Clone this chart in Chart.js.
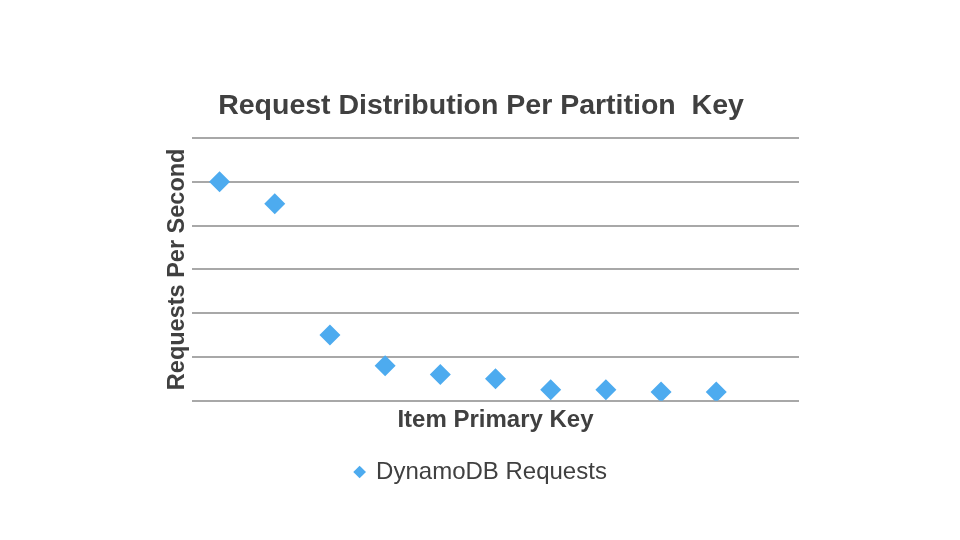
<!DOCTYPE html>
<html>
<head>
<meta charset="utf-8">
<script src="https://cdn.jsdelivr.net/npm/chart.js@4.4.0/dist/chart.umd.min.js"></script>
<style>
  html, body { margin: 0; padding: 0; background: #ffffff; }
  #wrap { width: 960px; height: 540px; }
</style>
</head>
<body>
<div id="wrap"><canvas id="c" width="960" height="540"></canvas></div>
<script>
const titleText = 'Request Distribution Per Partition  Key';
const xAxisTitle = 'Item Primary Key';
const yAxisTitle = 'Requests Per Second';
const seriesName = 'DynamoDB Requests';
const keys = ['k1', 'k2', 'k3', 'k4', 'k5', 'k6', 'k7', 'k8', 'k9', 'k10', 'k11'];
const requests = [5.0, 4.5, 1.5, 0.8, 0.6, 0.5, 0.25, 0.25, 0.2, 0.2];
const yMin = 0, yMax = 6, yStep = 1;

const FONT = '"Liberation Sans", Arial, Helvetica, sans-serif';
const TEXT = '#404040';
const GRID = '#a8a8a8';
const MARK = '#4dabef';

new Chart(document.getElementById('c'), {
  type: 'line',
  data: {
    labels: keys,
    datasets: [{
      label: seriesName,
      data: requests,
      showLine: false,
      pointStyle: 'rectRot',
      pointRadius: 10.5,
      pointHoverRadius: 10.5,
      pointBackgroundColor: MARK,
      pointBorderColor: MARK,
      pointBorderWidth: 0,
      backgroundColor: MARK,
      borderColor: MARK
    }]
  },
  options: {
    responsive: false,
    animation: false,
    layout: { padding: { top: 89.4, left: 163, right: 161, bottom: 46 } },
    plugins: {
      title: {
        display: true,
        text: titleText,
        color: TEXT,
        font: { family: FONT, size: 28.5, weight: 'bold' },
        padding: { top: 0, bottom: 14.4 }
      },
      legend: {
        display: true,
        position: 'bottom',
        labels: {
          usePointStyle: true,
          boxHeight: 9,
          boxWidth: 9,
          color: TEXT,
          font: { family: FONT, size: 24 }
        }
      },
      tooltip: { enabled: false }
    },
    scales: {
      x: {
        type: 'category',
        offset: true,
        grid: { display: false, drawTicks: false },
        border: { display: false },
        ticks: { display: false },
        title: {
          display: true,
          text: xAxisTitle,
          color: TEXT,
          font: { family: FONT, size: 24, weight: 'bold' },
          padding: { top: 4.9, bottom: 15.6 }
        }
      },
      y: {
        min: yMin,
        max: yMax,
        grid: { color: GRID, lineWidth: 2, drawTicks: false },
        border: { display: false },
        ticks: { display: false, stepSize: yStep },
        title: {
          display: true,
          text: yAxisTitle,
          color: TEXT,
          font: { family: FONT, size: 23.5, weight: 'bold' },
          padding: { top: 0, bottom: 0.8 }
        }
      }
    }
  }
});
</script>
</body>
</html>
